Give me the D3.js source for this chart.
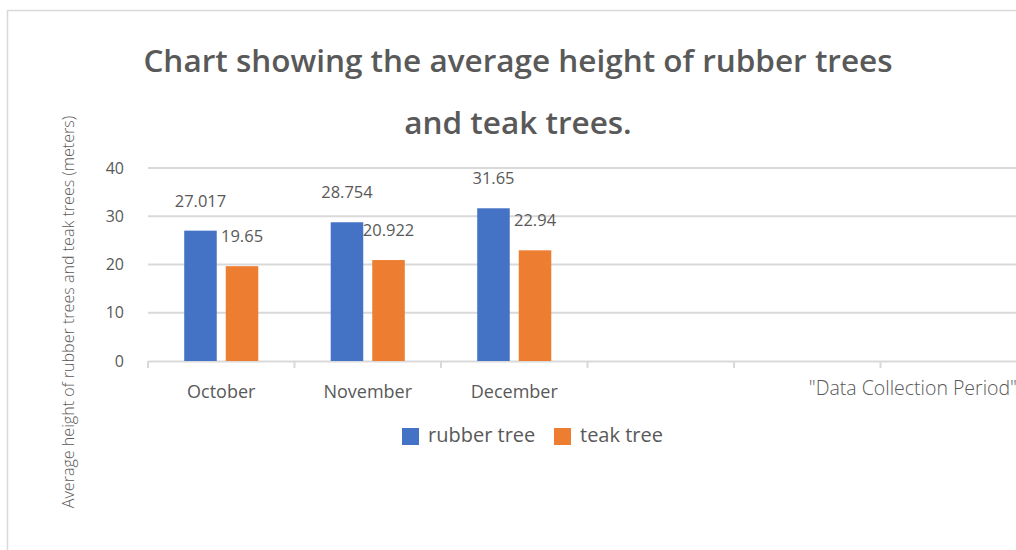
<!DOCTYPE html>
<html>
<head>
<meta charset="utf-8">
<script src="https://cdn.jsdelivr.net/npm/d3@7"></script>
<style>
  body { margin: 0; background: #fff; }
  text { font-family: "Open Sans", "Noto Sans", sans-serif; fill: #595959; }
</style>
</head>
<body>
<div id="chart"></div>
<script>
// data
var months = ["October", "November", "December"];
var slotCount = 6; // the axis keeps empty slots after December
var seriesNames = ["rubber tree", "teak tree"];
var rubberTree = [27.017, 28.754, 31.65];
var teakTree = [19.65, 20.922, 22.94];
var yTicks = [0, 10, 20, 30, 40];
var colors = ["#4472c4", "#ed7d31"];

var width = 1016, height = 550;
var margin = { top: 168, left: 148, bottom: 189 };
var plotRight = 1027;

var svg = d3.select("#chart").append("svg")
    .attr("width", width)
    .attr("height", height);

// chart area border
svg.append("rect")
    .attr("x", 7.5).attr("y", 10.5)
    .attr("width", 1100).attr("height", 600)
    .style("fill", "none")
    .style("stroke", "#d9d9d9")
    .style("stroke-width", 1.5);

// title
var title = svg.append("text")
    .attr("x", 518)
    .attr("text-anchor", "middle")
    .style("font-size", "31.5px")
    .style("font-weight", 600);
title.append("tspan").attr("x", 518).attr("y", 72).text("Chart showing the average height of rubber trees");
title.append("tspan").attr("x", 518).attr("y", 134).text("and teak trees.");

var x = d3.scaleBand()
    .domain(d3.range(slotCount))
    .range([margin.left, plotRight]);

var xInner = d3.scaleBand()
    .domain(seriesNames)
    .range([0, x.bandwidth()])
    .paddingInner(0.217)
    .paddingOuter(0.872);

var y = d3.scaleLinear()
    .domain([0, 40])
    .range([361, 168]);

// gridlines
svg.append("g").selectAll("line")
    .data(yTicks.filter(function(d) { return d > 0; }))
    .enter().append("line")
    .attr("x1", margin.left).attr("x2", plotRight)
    .attr("y1", function(d) { return y(d); })
    .attr("y2", function(d) { return y(d); })
    .style("stroke", "#d9d9d9")
    .style("stroke-width", 2);

// y axis labels
var yAxis = svg.append("g")
    .attr("transform", "translate(" + margin.left + ",0)")
    .call(d3.axisLeft(y).tickValues(yTicks).tickSize(0).tickPadding(24));
yAxis.select(".domain").remove();
yAxis.selectAll("text")
    .style("font-size", "16px")
    .style("fill", "#595959")
    .style("font-family", "\"Open Sans\", sans-serif");

// x axis
var xAxis = svg.append("g")
    .attr("transform", "translate(0," + y(0) + ")")
    .call(d3.axisBottom(x)
        .tickFormat(function(i) { return months[i] || ""; })
        .tickSize(0)
        .tickPadding(24));
xAxis.select(".domain")
    .style("stroke", "#d9d9d9")
    .style("stroke-width", 2);
xAxis.selectAll("text")
    .style("font-size", "18px")
    .style("fill", "#595959")
    .style("font-family", "\"Open Sans\", sans-serif");

// category dividers
svg.append("g").selectAll("line")
    .data(d3.range(slotCount + 1))
    .enter().append("line")
    .attr("x1", function(i) { return margin.left + i * x.step(); })
    .attr("x2", function(i) { return margin.left + i * x.step(); })
    .attr("y1", y(0)).attr("y2", y(0) + 7)
    .style("stroke", "#d9d9d9")
    .style("stroke-width", 2);

// bars
var barData = [];
months.forEach(function(m, i) {
    barData.push({ slot: i, series: seriesNames[0], value: rubberTree[i], color: colors[0] });
    barData.push({ slot: i, series: seriesNames[1], value: teakTree[i], color: colors[1] });
});

var bars = svg.append("g").selectAll("g")
    .data(barData)
    .enter().append("g")
    .attr("transform", function(d) { return "translate(" + (x(d.slot) + xInner(d.series)) + ",0)"; });

bars.append("rect")
    .attr("x", 0)
    .attr("y", function(d) { return y(d.value); })
    .attr("width", xInner.bandwidth())
    .attr("height", function(d) { return y(0) - y(d.value); })
    .style("fill", function(d) { return d.color; });

// data labels
bars.append("text")
    .attr("x", xInner.bandwidth() / 2)
    .attr("y", function(d) { return y(d.value) - 24; })
    .attr("text-anchor", "middle")
    .style("font-size", "16.5px")
    .style("font-weight", 400)
    .text(function(d) { return d.value; });

// axis titles
svg.append("text")
    .attr("transform", "translate(74,312) rotate(-90)")
    .attr("text-anchor", "middle")
    .style("font-size", "16.1px")
    .style("font-weight", 300)
    .text("Average height of rubber trees and teak trees (meters)");

svg.append("text")
    .attr("x", 1017)
    .attr("y", 395)
    .attr("text-anchor", "end")
    .style("font-size", "19.5px")
    .style("font-weight", 300)
    .text("\"Data Collection Period\"");

// legend
var legend = svg.append("g").selectAll("g")
    .data(seriesNames)
    .enter().append("g")
    .attr("transform", function(d, i) { return "translate(" + [402, 554][i] + ",428)"; });

legend.append("rect")
    .attr("width", 17).attr("height", 17)
    .style("fill", function(d, i) { return colors[i]; });

legend.append("text")
    .attr("x", 26)
    .attr("y", 14)
    .style("font-size", "20px")
    .text(function(d) { return d; });
</script>
</body>
</html>
